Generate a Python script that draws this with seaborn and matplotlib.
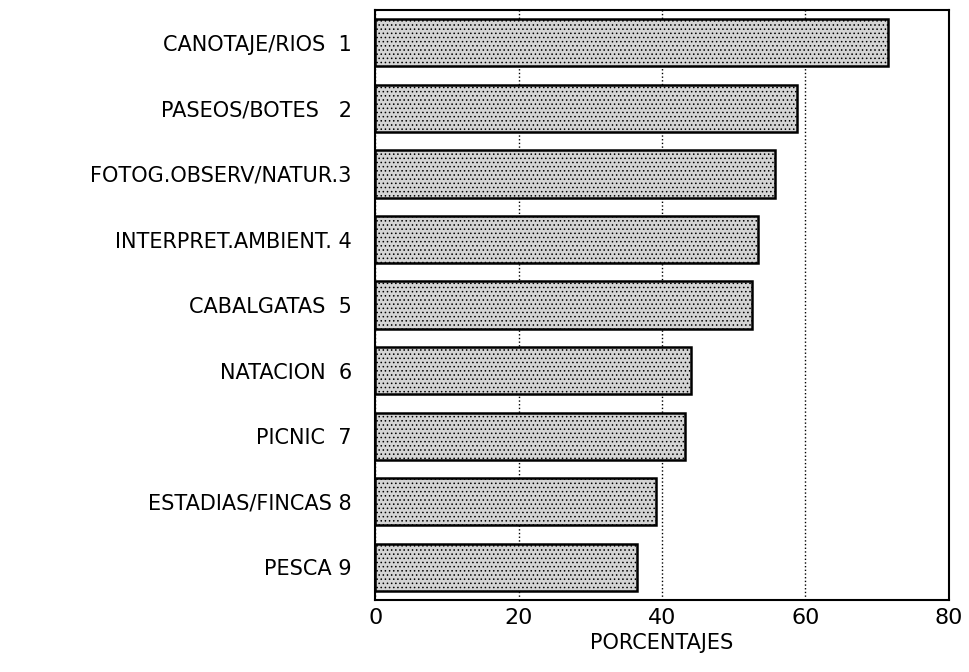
import numpy as np
import pandas as pd
import seaborn as sns
import matplotlib.pyplot as plt

# data
etiquetas = ['CANOTAJE/RIOS  1', 'PASEOS/BOTES   2', 'FOTOG.OBSERV/NATUR.3', 'INTERPRET.AMBIENT. 4',
             'CABALGATAS  5', 'NATACION  6', 'PICNIC  7', 'ESTADIAS/FINCAS 8', 'PESCA 9']
porcentajes = [71.5, 58.9, 55.8, 53.4, 52.6, 44.0, 43.2, 39.2, 36.5]
xticks = [0, 20, 40, 60, 80]

df = pd.DataFrame({'actividad': etiquetas, 'pct': porcentajes})

sns.set_style('ticks')
plt.rcParams['font.family'] = ['DejaVu Sans']
plt.rcParams['text.color'] = 'black'
plt.rcParams['xtick.color'] = 'black'
plt.rcParams['ytick.color'] = 'black'
plt.rcParams['hatch.color'] = '#8a8a8a'
plt.rcParams['hatch.linewidth'] = 0.6

fig = plt.figure(figsize=(9.7, 6.72), dpi=100)
ax = fig.add_axes([0.387, 0.107, 0.591, 0.878])

ax.set_axisbelow(True)
ax.grid(axis='x', linestyle=':', color='black', linewidth=1.0)

sns.barplot(data=df, x='pct', y='actividad', orient='h', color='#d4d4d4',
            edgecolor='black', linewidth=1.8, width=0.72, saturation=1, ax=ax)
for p in ax.patches:
    p.set_hatch('....')

ax.set_xlim(0, 80)
ax.set_ylim(8.5, -0.5)
ax.set_xticks(xticks)
ax.set_xticklabels([str(t) for t in xticks], fontsize=16)
ax.tick_params(axis='y', direction='in', length=7, width=1.5, pad=17, labelsize=15)
ax.tick_params(axis='x', length=0, pad=6)
ax.set_ylabel('')
ax.set_xlabel('PORCENTAJES', fontsize=15, labelpad=3, color='black')

for s in ax.spines.values():
    s.set_visible(True)
    s.set_linewidth(1.5)
    s.set_color('black')

fig.savefig('out.png', dpi=100)
